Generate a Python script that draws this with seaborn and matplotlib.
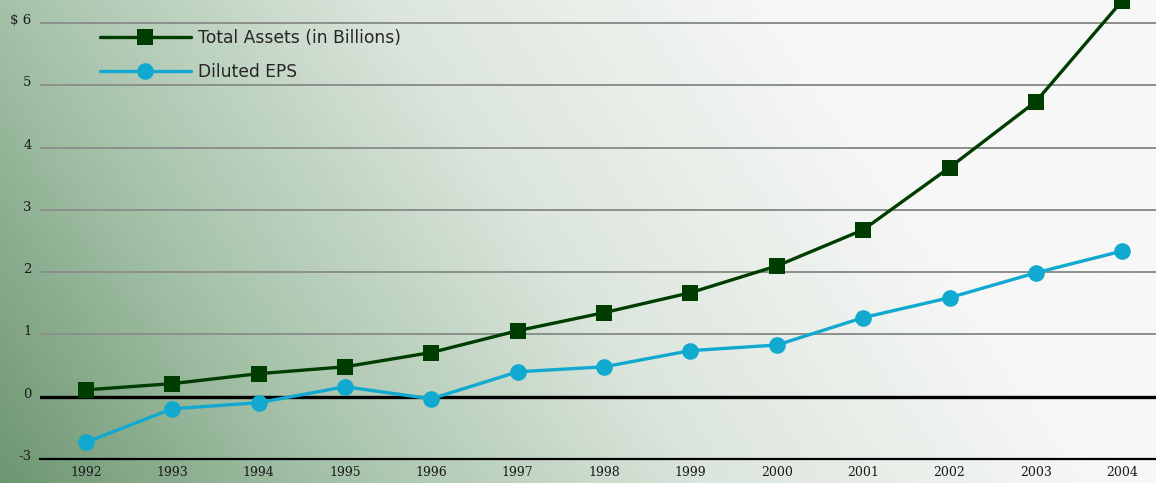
import numpy as np
import pandas as pd
import matplotlib
matplotlib.use("Agg")
import matplotlib.pyplot as plt
import matplotlib.transforms as mtransforms
from matplotlib.colors import LinearSegmentedColormap
import seaborn as sns

years = [1992, 1993, 1994, 1995, 1996, 1997, 1998, 1999, 2000, 2001, 2002, 2003, 2004]
total_assets = [0.11, 0.21, 0.37, 0.48, 0.71, 1.06, 1.35, 1.67, 2.10, 2.68, 3.68, 4.74, 6.36]
diluted_eps = [-2.2, -0.58, -0.29, 0.16, -0.1, 0.40, 0.48, 0.74, 0.83, 1.27, 1.59, 1.99, 2.34]
y_ticks = [-3, 0, 1, 2, 3, 4, 5, 6]
y_labels = ["-3", "0", "1", "2", "3", "4", "5", "$ 6"]

df = pd.DataFrame({"Year": years, "Assets": total_assets, "EPS": diluted_eps})

sns.set_theme(style="white")
plt.rcParams["font.family"] = ["DejaVu Sans"]

fig = plt.figure(figsize=(11.56, 4.83), dpi=100)

# gradient background, dark green bottom-left to near white on the right
bg = fig.add_axes([0, 0, 1, 1], zorder=0)
gx, gy = np.meshgrid(np.linspace(0, 1, 600), np.linspace(0, 1, 250))
t = np.clip(gx * 1.05 + gy * 0.3, 0, 1)
cmap = LinearSegmentedColormap.from_list(
    "bg", [(0, "#6e9672"), (0.3, "#a5c2a9"), (0.65, "#dce6dd"), (1.0, "#f6f7f6")])
bg.imshow(t, cmap=cmap, origin="lower", aspect="auto", extent=[0, 1, 0, 1])
bg.axis("off")

ax = fig.add_axes([40 / 1156, 24 / 483, 1 - 40 / 1156, 1 - 24 / 483], zorder=1)
ax.set_facecolor("none")

sns.lineplot(data=df, x="Year", y="Assets", ax=ax, color="#003d00", lw=2.4,
             marker="s", markersize=12, markeredgewidth=0,
             label="Total Assets (in Billions)", zorder=4)
sns.lineplot(data=df, x="Year", y="EPS", ax=ax, color="#12a9d0", lw=2.4,
             marker="o", markersize=12, markeredgewidth=0,
             label="Diluted EPS", zorder=3)

# broken axis: negative part compressed
def fwd(y):
    y = np.asarray(y, dtype=float)
    return np.where(y < 0, y / 3.0, y)

def inv(y):
    y = np.asarray(y, dtype=float)
    return np.where(y < 0, y * 3.0, y)

ax.set_yscale("function", functions=(fwd, inv))
ax.set_ylim(-3, 6.37)
ax.set_xlim(1991.47, 2004.39)

ax.set_yticks(y_ticks)
ax.set_yticklabels(y_labels, fontsize=9.5, family="DejaVu Serif")
ax.set_xticks(years)
ax.set_xticklabels([str(y) for y in years], fontsize=9, family="DejaVu Serif")
ax.tick_params(axis="y", length=0, pad=6, colors="#1a1a1a")
ax.tick_params(axis="x", direction="in", length=16, width=1.4, color="black",
               pad=5, labelcolor="#1a1a1a")
off = mtransforms.ScaledTranslation(0, 4 / 100, fig.dpi_scale_trans)
for lab in ax.get_yticklabels():
    lab.set_transform(lab.get_transform() + off)

ax.grid(axis="y", color="#8c908c", lw=1.4)
ax.grid(axis="x", visible=False)
ax.axhline(0, color="black", lw=2.4, zorder=2)
for s in ["top", "right", "left"]:
    ax.spines[s].set_visible(False)
ax.spines["bottom"].set_color("black")
ax.spines["bottom"].set_linewidth(1.6)
ax.set_xlabel("")
ax.set_ylabel("")

ax.legend(loc="upper left", bbox_to_anchor=(100 / 1156, 1 - 29 / 483),
          bbox_transform=fig.transFigure, frameon=False, fontsize=12.3,
          handlelength=5.3, handletextpad=0.45, labelspacing=0.95,
          borderpad=0, borderaxespad=0)

fig.savefig("out.png", dpi=100)
